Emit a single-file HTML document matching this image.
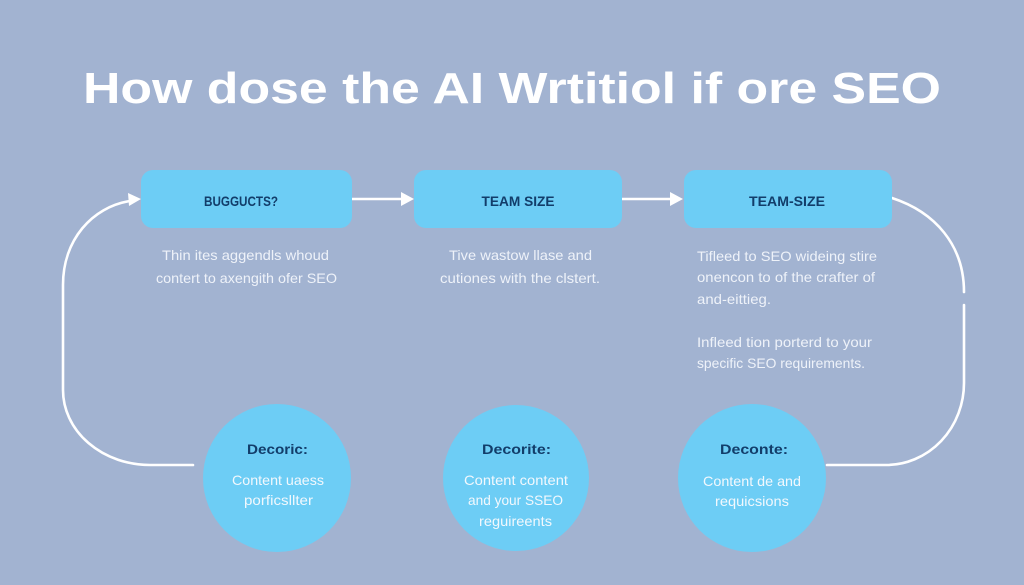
<!DOCTYPE html>
<html>
<head>
<meta charset="utf-8">
<style>
html,body{margin:0;padding:0;background:#a2b3d1;}
svg{display:block;}
</style>
</head>
<body>
<svg width="1024" height="585" viewBox="0 0 1024 585" xmlns="http://www.w3.org/2000/svg">
<rect width="1024" height="585" fill="#a2b3d1"/>

<!-- Title -->
<text x="83" y="103" font-family="Liberation Sans, sans-serif" font-weight="bold" font-size="44" fill="#ffffff" textLength="858" lengthAdjust="spacingAndGlyphs">How dose the AI Wrtitiol if ore SEO</text>

<!-- Connectors -->
<g fill="none" stroke="#ffffff" stroke-width="2.6" stroke-linecap="round">
  <path d="M193,465 L150,465 A87,75 0 0 1 63,390 L63,285 C63,240 92,207 130,201"/>
  <path d="M892,198 C935,212 964,245 964,292"/>
  <path d="M964,305 L964,383 A78,82 0 0 1 886,465 L827,465"/>
  <path d="M352,199 L403,199"/>
  <path d="M622,199 L672,199"/>
</g>
<g fill="#ffffff">
  <polygon points="141,199 128,193 129,206"/>
  <polygon points="414,199 401,192 401,206"/>
  <polygon points="683,199 670,192 670,206"/>
</g>

<!-- Boxes -->
<g fill="#6dcdf5">
  <rect x="141" y="170" width="211" height="58" rx="12"/>
  <rect x="414" y="170" width="208" height="58" rx="12"/>
  <rect x="684" y="170" width="208" height="58" rx="12"/>
</g>
<g font-family="Liberation Sans, sans-serif" font-weight="bold" font-size="13.5" fill="#123d6a" text-anchor="middle">
  <text x="241" y="206" textLength="74" lengthAdjust="spacingAndGlyphs">BUGGUCTS?</text>
  <text x="518" y="206" textLength="73" lengthAdjust="spacingAndGlyphs">TEAM SIZE</text>
  <text x="787" y="206" textLength="76" lengthAdjust="spacingAndGlyphs">TEAM-SIZE</text>
</g>

<!-- Descriptions -->
<g font-family="Liberation Sans, sans-serif" font-size="14" fill="#eef2f9">
  <text x="162" y="260" textLength="167" lengthAdjust="spacingAndGlyphs">Thin ites aggendls whoud</text>
  <text x="156" y="283" textLength="181" lengthAdjust="spacingAndGlyphs">contert to axengith ofer SEO</text>

  <text x="449" y="260" textLength="143" lengthAdjust="spacingAndGlyphs">Tive wastow llase and</text>
  <text x="440" y="283" textLength="160" lengthAdjust="spacingAndGlyphs">cutiones with the clstert.</text>

  <text x="697" y="261" textLength="180" lengthAdjust="spacingAndGlyphs">Tifleed to SEO wideing stire</text>
  <text x="697" y="282" textLength="178" lengthAdjust="spacingAndGlyphs">onencon to of the crafter of</text>
  <text x="697" y="304" textLength="74" lengthAdjust="spacingAndGlyphs">and-eittieg.</text>
  <text x="697" y="347" textLength="175" lengthAdjust="spacingAndGlyphs">Infleed tion porterd to your</text>
  <text x="697" y="368" textLength="168" lengthAdjust="spacingAndGlyphs">specific SEO requirements.</text>
</g>

<!-- Circles -->
<g fill="#6dcdf5">
  <circle cx="277" cy="478" r="74"/>
  <circle cx="516" cy="478" r="73"/>
  <circle cx="752" cy="478" r="74"/>
</g>
<g font-family="Liberation Sans, sans-serif" font-weight="bold" font-size="14" fill="#123d6a">
  <text x="247" y="454" textLength="61" lengthAdjust="spacingAndGlyphs">Decoric:</text>
  <text x="482" y="454" textLength="69" lengthAdjust="spacingAndGlyphs">Decorite:</text>
  <text x="720" y="454" textLength="68" lengthAdjust="spacingAndGlyphs">Deconte:</text>
</g>
<g font-family="Liberation Sans, sans-serif" font-size="14" fill="#f2f8fd">
  <text x="232" y="485" textLength="92" lengthAdjust="spacingAndGlyphs">Content uaess</text>
  <text x="244" y="505" textLength="69" lengthAdjust="spacingAndGlyphs">porficsllter</text>

  <text x="464" y="485" textLength="104" lengthAdjust="spacingAndGlyphs">Content content</text>
  <text x="468" y="505" textLength="95" lengthAdjust="spacingAndGlyphs">and your SSEO</text>
  <text x="479" y="526" textLength="73" lengthAdjust="spacingAndGlyphs">reguireents</text>

  <text x="703" y="486" textLength="98" lengthAdjust="spacingAndGlyphs">Content de and</text>
  <text x="715" y="506" textLength="74" lengthAdjust="spacingAndGlyphs">requicsions</text>
</g>
</svg>
</body>
</html>
